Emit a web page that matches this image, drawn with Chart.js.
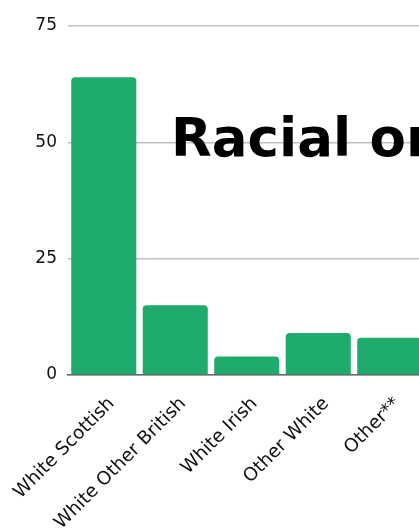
<!DOCTYPE html>
<html>
<head>
<meta charset="utf-8">
<script src="https://cdn.jsdelivr.net/npm/chart.js@4.4.1/dist/chart.umd.min.js"></script>
<style>
  html, body { margin: 0; padding: 0; background: #fff; overflow: hidden; }
  #wrap { width: 419px; height: 529px; overflow: hidden; }
</style>
</head>
<body>
<div id="wrap"><canvas id="groupChart" width="428" height="529"></canvas></div>
<script>
// categorie e percentuali
const groupLabels = ['White Scottish', 'White Other British', 'White Irish', 'Other White', 'Other**'];
const groupValues = [64, 15, 4, 9, 8];
const yTicks = [0, 25, 50, 75];
const chartTitle = 'Racial or Ethnic Group';

const barColor = '#1eab6b';

// titolo disegnato sopra l'area del grafico
const titlePlugin = {
    id: 'overTitle',
    afterDraw(chart) {
        const ctx = chart.ctx;
        ctx.save();
        ctx.font = 'bold 53px "DejaVu Sans"';
        ctx.fillStyle = '#000';
        ctx.textAlign = 'left';
        ctx.textBaseline = 'alphabetic';
        ctx.fillText(chartTitle, 171, 156);
        ctx.restore();
    }
};

const ctx = document.getElementById('groupChart').getContext('2d');
new Chart(ctx, {
    type: 'bar',
    data: {
        labels: groupLabels,
        datasets: [{
            data: groupValues,
            backgroundColor: barColor,
            borderWidth: 0,
            borderRadius: { topLeft: 4, topRight: 4 },
            borderSkipped: 'bottom',
            barPercentage: 0.91,
            categoryPercentage: 1
        }]
    },
    options: {
        responsive: false,
        animation: false,
        layout: { padding: { top: 26, right: 2.5, left: 0, bottom: 0 } },
        plugins: {
            legend: { display: false },
            tooltip: { enabled: false },
            title: { display: false }
        },
        scales: {
            x: {
                grid: { display: false },
                border: { display: true, color: '#666', width: 1.5 },
                ticks: {
                    color: '#111',
                    font: { family: 'DejaVu Sans', size: 18.5 },
                    minRotation: 45,
                    maxRotation: 45,
                    autoSkip: false,
                    padding: 10,
                    labelOffset: 8
                },
                afterFit(scale) {
                    // le etichette ruotate non devono spostare l'area del grafico
                    scale.height = 154;
                    scale.paddingLeft = 0;
                    scale.paddingRight = 0;
                }
            },
            y: {
                min: 0,
                max: 75,
                afterBuildTicks(scale) { scale.ticks = yTicks.map(v => ({ value: v })); },
                grid: { color: '#c0c0c0', lineWidth: 1.5, drawTicks: false },
                border: { display: false },
                ticks: {
                    color: '#111',
                    font: { family: 'DejaVu Sans', size: 17 },
                    padding: 11
                },
                afterFit(scale) { scale.width = 68; }
            }
        }
    },
    plugins: [titlePlugin]
});
</script>
</body>
</html>
